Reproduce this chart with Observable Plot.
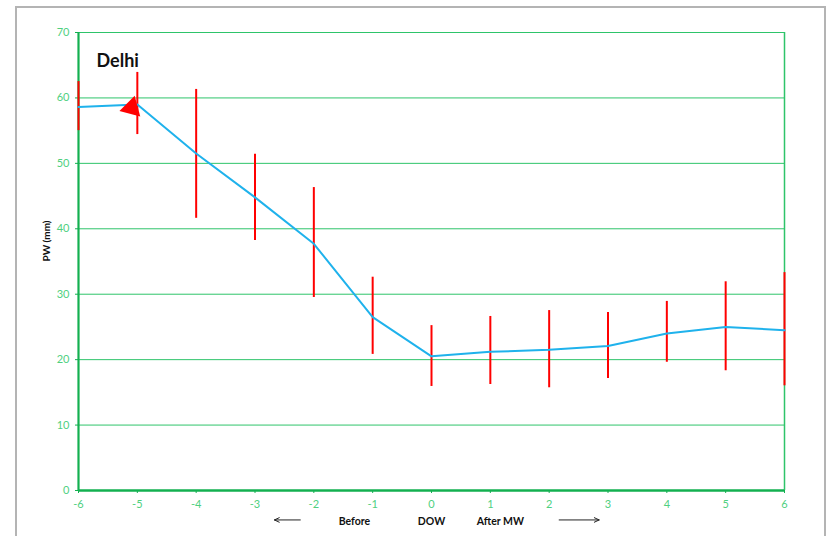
<!DOCTYPE html>
<html><head><meta charset="utf-8">
<script src="https://cdn.jsdelivr.net/npm/d3@7"></script>
<script src="https://cdn.jsdelivr.net/npm/@observablehq/plot@0.6"></script>
<style>
body{margin:0;background:#fff;font-family:Lato,"Open Sans",sans-serif;}
#wrap{position:relative;width:830px;height:536px;overflow:hidden;}
#border{position:absolute;left:15px;top:6px;width:811px;height:540px;border:2px solid #b4b4b4;box-sizing:border-box;pointer-events:none;}
#chart{position:absolute;left:0;top:0;}
</style></head>
<body><div id="wrap"><div id="chart"></div><div id="border"></div></div>
<script>
const days = [-6,-5,-4,-3,-2,-1,0,1,2,3,4,5,6];
const pw   = [58.6,59.0,51.5,44.8,37.7,26.5,20.5,21.2,21.5,22.1,24.0,25.0,24.5];
const errHigh = [62.5,63.9,61.3,51.4,46.3,32.6,25.2,26.6,27.5,27.2,28.9,31.9,33.3];
const errLow  = [55.0,54.4,41.6,38.2,29.5,20.8,15.9,16.2,15.7,17.1,19.6,18.3,16.0];
const yTicks = [0,10,20,30,40,50,60,70];
const bottomLabels = ["Before","DOW","After MW"];
const bottomLabelX = [-1.31,0,1.17];
const arrowFrom = [-2.23, 2.17];
const arrowTo   = [-2.67, 2.85];

const data = days.map((d,i)=>({day:d, pw:pw[i], lo:errLow[i], hi:errHigh[i]}));
const labels = bottomLabels.map((t,i)=>({t, x:bottomLabelX[i]}));
const arrows = arrowFrom.map((x1,i)=>({x1, x2:arrowTo[i]}));

const grid = "#2ec46a", axisC = "#13b050", tickText = "#4fd07f";
const fmt = d => String(d);

const plot = Plot.plot({
  width: 830, height: 536,
  marginLeft: 78, marginRight: 46, marginTop: 32, marginBottom: 46,
  style: {fontFamily: "Lato, 'Open Sans', sans-serif", background: "transparent"},
  x: {domain: [-6,6]},
  y: {domain: [0,70]},
  marks: [
    Plot.ruleY(yTicks.filter(v=>v>0), {stroke: grid, strokeWidth: 1}),
    Plot.ruleX([6], {stroke: grid, strokeWidth: 1.5}),
    Plot.axisX({ticks: days, tickFormat: fmt, tickSize: 3, stroke: axisC, fill: tickText, fontSize: 11, tickPadding: 7, label: null}),
    Plot.axisY({ticks: yTicks, tickFormat: fmt, tickSize: 3, stroke: axisC, fill: tickText, fontSize: 11, tickPadding: 6, label: null}),
    Plot.ruleX([-6], {stroke: axisC, strokeWidth: 2.2}),
    Plot.ruleY([0], {stroke: axisC, strokeWidth: 2.5}),
    Plot.ruleX(data, {x: "day", y1: "lo", y2: "hi", stroke: "#ff0000", strokeWidth: 2}),
    Plot.line(data, {x: "day", y: "pw", stroke: "#1fb2ec", strokeWidth: 2}),
    Plot.dot([{x:-5.1, y:58.5}], {x:"x", y:"y", symbol:"triangle", r: 8, fill:"#ff0000", stroke:"none", rotate: -105}),
    Plot.text(["Delhi"], {frameAnchor: "top-left", dx: 18, dy: 22, fontSize: 18, fontWeight: "bold", fill: "#111", textAnchor: "start"}),
    Plot.text(["PW (mm)"], {frameAnchor: "left", dx: -32, rotate: -90, fontSize: 10, fontWeight: "bold", fill: "#111"}),
    Plot.text(labels, {x: "x", y: ()=>-4.8, text: "t", fontSize: 10.5, fontWeight: "bold", fill: "#111", clip: false}),
    Plot.arrow(arrows, {x1: "x1", x2: "x2", y1: ()=>-4.5, y2: ()=>-4.5, stroke: "#222", strokeWidth: 1, headLength: 8, headAngle: 50, clip: false})
  ]
});
document.getElementById("chart").appendChild(plot);
</script></body></html>
